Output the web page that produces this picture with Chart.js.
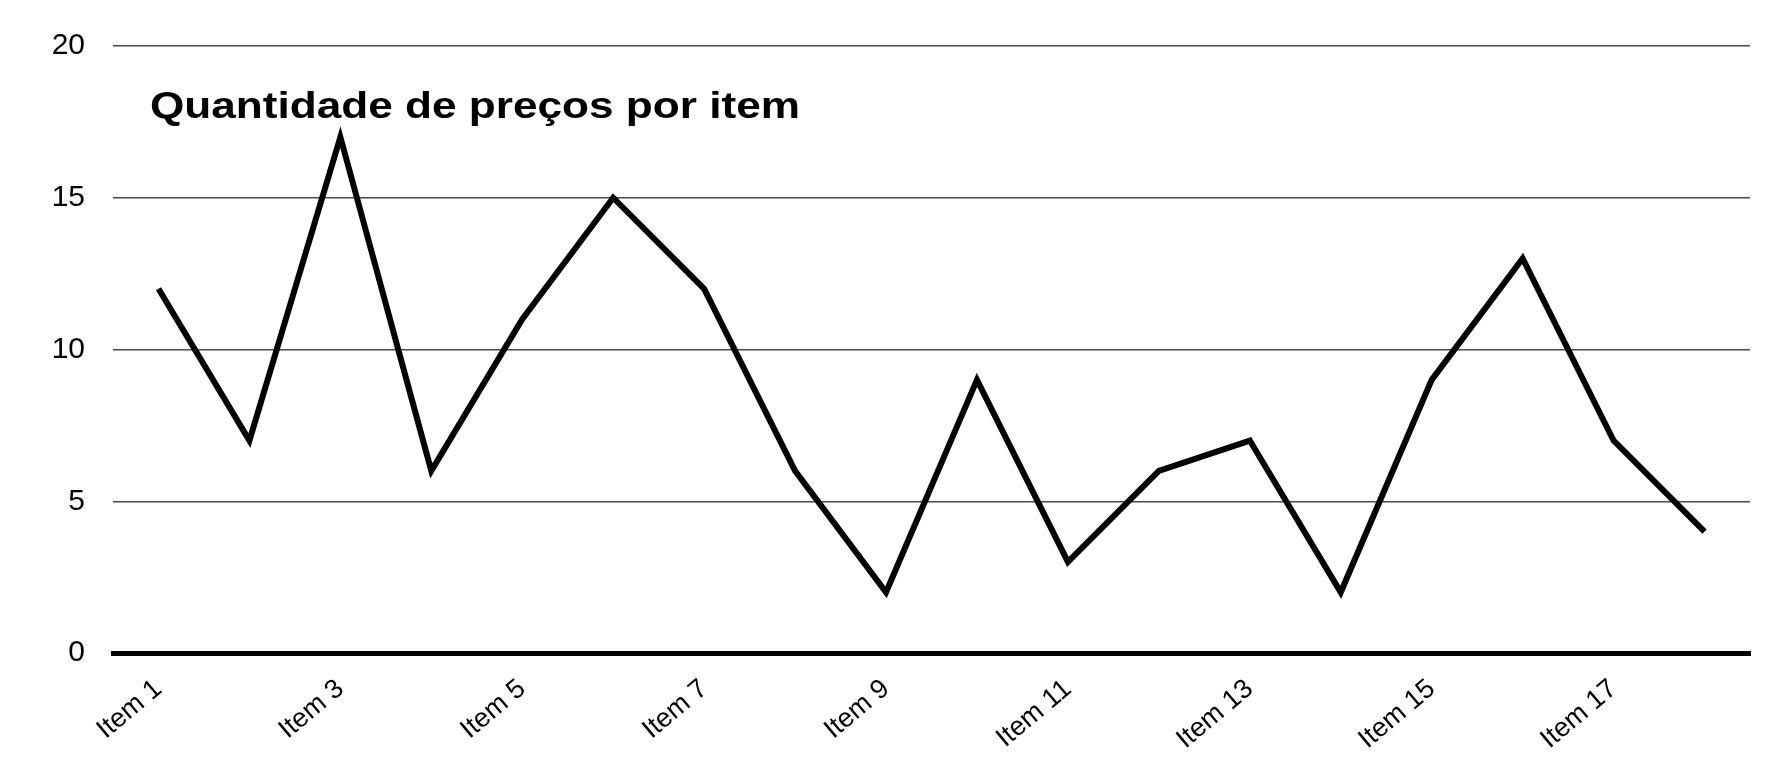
<!DOCTYPE html>
<html>
<head>
<meta charset="utf-8">
<script src="https://cdn.jsdelivr.net/npm/chart.js@4/dist/chart.umd.min.js"></script>
<style>
  body { margin: 0; background: #fff; }
  #chart { display: block; }
</style>
</head>
<body>
<canvas id="chart" width="1765" height="781"></canvas>
<script>
// Data
const items = ["Item 1", "Item 2", "Item 3", "Item 4", "Item 5", "Item 6", "Item 7", "Item 8", "Item 9",
  "Item 10", "Item 11", "Item 12", "Item 13", "Item 14", "Item 15", "Item 16", "Item 17", "Item 18"];
const priceCounts = [12, 7, 17, 6, 11, 15, 12, 6, 2, 9, 3, 6, 7, 2, 9, 13, 7, 4];
const yTicks = [0, 5, 10, 15, 20];
const chartTitle = "Quantidade de preços por item";

const FONT = "'Liberation Sans', Arial, sans-serif";

// title sits inside the plot, top left
const titlePlugin = {
  id: "insideTitle",
  afterDraw(chart) {
    const { ctx, chartArea } = chart;
    ctx.save();
    ctx.font = "bold 36px " + FONT;
    ctx.fillStyle = "#000";
    ctx.textBaseline = "middle";
    const w = ctx.measureText(chartTitle).width;
    const x = chartArea.left + 37;
    const y = chartArea.top + 62;
    ctx.translate(x, y);
    ctx.scale(650 / w, 1);
    ctx.fillText(chartTitle, 0, 0);
    ctx.restore();
  }
};

new Chart(document.getElementById("chart"), {
  type: "line",
  data: {
    labels: items,
    datasets: [{
      data: priceCounts,
      borderColor: "#000",
      borderWidth: 6,
      pointRadius: 0,
      tension: 0,
      fill: false
    }]
  },
  options: {
    responsive: false,
    animation: false,
    layout: { padding: { top: 2, right: 15, left: 0, bottom: 0 } },
    plugins: {
      legend: { display: false },
      tooltip: { enabled: false },
      title: { display: false }
    },
    scales: {
      x: {
        offset: true,
        grid: { display: false },
        border: { display: true, color: "#000", width: 5 },
        ticks: {
          autoSkip: false,
          minRotation: 40,
          maxRotation: 40,
          padding: 12,
          color: "#000",
          font: { family: FONT, size: 27 },
          callback: (val, i) => (i % 2 === 0 ? items[i] : "")
        },
        afterFit(scale) { scale.height = 128; }
      },
      y: {
        min: yTicks[0],
        max: yTicks[yTicks.length - 1],
        afterBuildTicks(scale) { scale.ticks = yTicks.map(v => ({ value: v })); },
        grid: { color: "#4a4a4a", lineWidth: 1.5, drawTicks: false },
        border: { display: false },
        ticks: {
          padding: 28,
          color: "#000",
          font: { family: FONT, size: 30 }
        },
        afterFit(scale) { scale.width = 113; }
      }
    }
  },
  plugins: [titlePlugin]
});
</script>
</body>
</html>
